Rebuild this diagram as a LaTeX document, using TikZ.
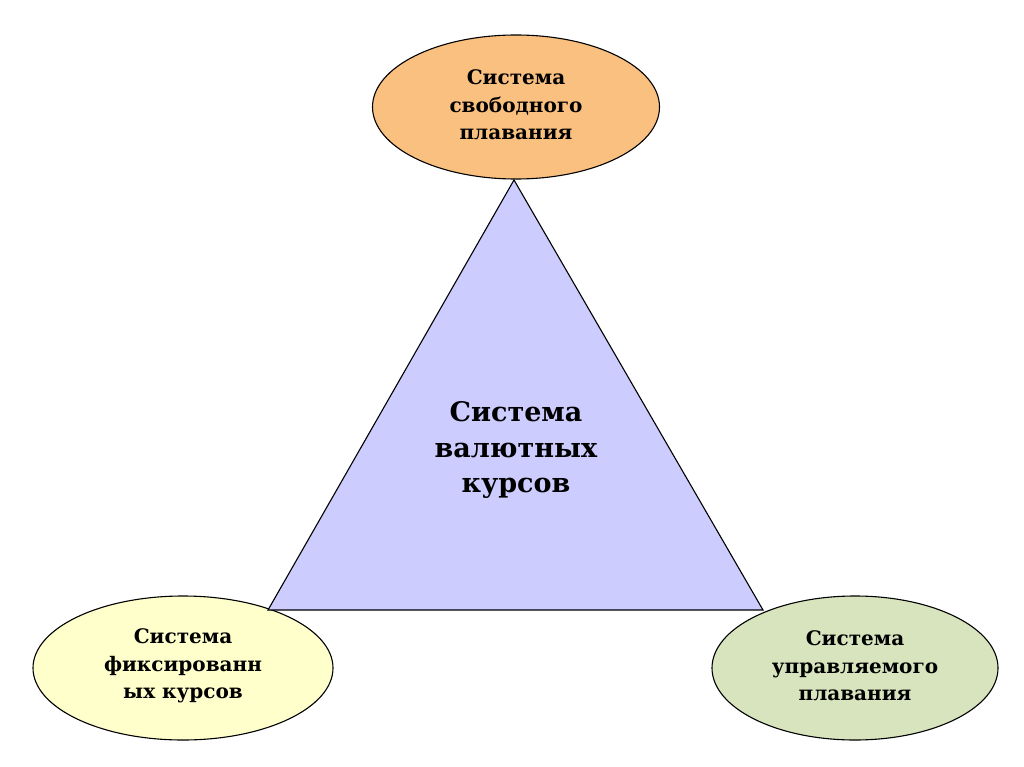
\documentclass[tikz,border=0pt]{standalone}
\usepackage{fontspec}
\setmainfont{DejaVu Serif}
\usetikzlibrary{shapes.geometric}
\definecolor{orangefill}{RGB}{250,192,128}
\definecolor{triblue}{RGB}{204,204,255}
\definecolor{yellowfill}{RGB}{255,255,204}
\definecolor{greenfill}{RGB}{215,228,189}
\tikzset{
  oval/.style={ellipse, draw=black, line width=1.1pt, inner sep=0pt, minimum width=#1, minimum height=144pt},
  smalltext/.style={font=\bfseries\fontsize{20}{27.5}\selectfont, align=center},
  bigtext/.style={font=\bfseries\fontsize{27}{35.5}\selectfont, align=center}
}
\begin{document}
\begin{tikzpicture}[x=1pt,y=-1pt]
\useasboundingbox (0,0) rectangle (1024,767);
\node[oval=287pt, fill=orangefill] (top) at (516,107) {};
\node[oval=300pt, fill=yellowfill] (left) at (183,668) {};
\node[oval=286pt, fill=greenfill] (right) at (855,668) {};
\coordinate (apex) at (514,180);
\coordinate (bl) at (268,610);
\coordinate (br) at (763,610);
\draw[fill=triblue, line width=1.1pt, line join=miter] (apex) -- (br) -- (bl) -- cycle;
\node[smalltext] (ttop) at (516,105) {Система\\свободного\\плавания};
\node[smalltext] (tleft) at (183,666) {Система\\фиксированн\\ых курсов};
\node[smalltext] (tright) at (855,666) {Система\\управляемого\\плавания};
\node[bigtext] (tmid) at (516,450) {Система\\валютных\\курсов};
\end{tikzpicture}
\end{document}
